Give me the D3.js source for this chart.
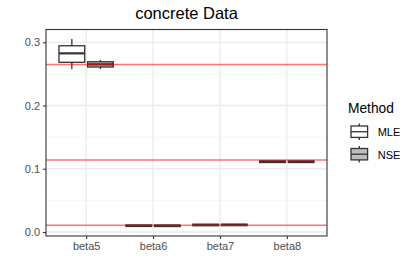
<!DOCTYPE html>
<html>
<head>
<meta charset="utf-8">
<script src="https://cdn.jsdelivr.net/npm/d3@7"></script>
<style>
  body { margin: 0; background: #fff; }
  svg { font-family: "Liberation Sans", Arial, sans-serif; }
</style>
</head>
<body>
<svg id="chart" width="415" height="277"></svg>
<script>
// ---- Data ----
const categories = ["beta5", "beta6", "beta7", "beta8"];
const methods = ["MLE", "NSE"];
const fills = ["#ffffff", "#bebebe"];
const yTicks = [0.0, 0.1, 0.2, 0.3];
const yMinor = [0.05, 0.15, 0.25];
// [lower, q1, median, q3, upper] per category
const mleStats = [
  [0.2572, 0.2683, 0.2825, 0.2945, 0.3051],
  [0.0088, 0.0088, 0.0099, 0.0111, 0.0111],
  [0.0100, 0.0100, 0.0111, 0.0123, 0.0123],
  [0.1099, 0.1099, 0.1111, 0.1124, 0.1124]
];
const nseStats = [
  [0.2577, 0.2609, 0.2651, 0.2692, 0.2719],
  [0.0087, 0.0087, 0.0099, 0.0110, 0.0110],
  [0.0101, 0.0101, 0.0112, 0.0124, 0.0124],
  [0.1099, 0.1099, 0.1111, 0.1123, 0.1123]
];
const trueValues = [0.265, 0.114, 0.0106];

const svg = d3.select("#chart");
const panel = { left: 46, right: 327, top: 29.5, bottom: 236 };

// ---- Scales ----
const x = d3.scalePoint().domain(categories).range([panel.left, panel.right]).padding(0.6);
const step = x.step();
const dodge = d3.scaleBand().domain(methods)
  .range([-step * 0.4275, step * 0.4275])
  .paddingInner(0.1).paddingOuter(0.05);
const y = d3.scaleLinear().domain([-0.0063, 0.3202]).range([panel.bottom, panel.top]);

// ---- Panel grid ----
const grid = svg.append("g");
grid.selectAll(".minor").data(yMinor).join("line")
  .attr("x1", panel.left).attr("x2", panel.right)
  .attr("y1", d => y(d)).attr("y2", d => y(d))
  .attr("stroke", "#f2f2f2").attr("stroke-width", 0.7);
grid.selectAll(".major").data(yTicks).join("line")
  .attr("x1", panel.left).attr("x2", panel.right)
  .attr("y1", d => y(d)).attr("y2", d => y(d))
  .attr("stroke", "#ebebeb").attr("stroke-width", 1.3);
grid.selectAll(".vmajor").data(categories).join("line")
  .attr("x1", d => x(d)).attr("x2", d => x(d))
  .attr("y1", panel.top).attr("y2", panel.bottom)
  .attr("stroke", "#ebebeb").attr("stroke-width", 1.3);

// ---- Boxes ----
const boxes = [];
categories.forEach((c, i) => {
  boxes.push({ cat: c, m: "MLE", s: mleStats[i] });
  boxes.push({ cat: c, m: "NSE", s: nseStats[i] });
});
const bw = dodge.bandwidth();
const g = svg.append("g").selectAll("g").data(boxes).join("g")
  .attr("transform", d => `translate(${x(d.cat) + dodge(d.m)},0)`);
g.append("line")
  .attr("x1", bw / 2).attr("x2", bw / 2)
  .attr("y1", d => y(d.s[0])).attr("y2", d => y(d.s[4]))
  .attr("stroke", "#333").attr("stroke-width", 1.3);
g.append("rect")
  .attr("x", 0).attr("width", bw)
  .attr("y", d => y(d.s[3])).attr("height", d => y(d.s[1]) - y(d.s[3]))
  .attr("fill", d => fills[methods.indexOf(d.m)])
  .attr("stroke", "#333").attr("stroke-width", 1.3);
g.append("line")
  .attr("x1", 0).attr("x2", bw)
  .attr("y1", d => y(d.s[2])).attr("y2", d => y(d.s[2]))
  .attr("stroke", "#333").attr("stroke-width", 2.2);

// ---- True value lines ----
svg.append("g").selectAll("line").data(trueValues).join("line")
  .attr("x1", panel.left).attr("x2", panel.right)
  .attr("y1", d => y(d)).attr("y2", d => y(d))
  .attr("stroke", "red").attr("stroke-opacity", 0.55).attr("stroke-width", 1.5);

// ---- Border ----
svg.append("rect")
  .attr("x", panel.left).attr("y", panel.top)
  .attr("width", panel.right - panel.left).attr("height", panel.bottom - panel.top)
  .attr("fill", "none").attr("stroke", "#333").attr("stroke-width", 1.1);

// ---- Axes ----
const yAxis = svg.append("g")
  .attr("transform", `translate(${panel.left},0)`)
  .call(d3.axisLeft(y).tickValues(yTicks).tickFormat(d3.format(".1f")).tickSize(3).tickPadding(3));
const xAxis = svg.append("g")
  .attr("transform", `translate(0,${panel.bottom})`)
  .call(d3.axisBottom(x).tickSize(3).tickPadding(3));
[yAxis, xAxis].forEach(a => {
  a.select(".domain").remove();
  a.selectAll(".tick line").attr("stroke", "#333").attr("stroke-width", 1.1);
  a.selectAll(".tick text").attr("fill", "#4d4d4d").style("font-size", "11px")
    .style("font-family", "'Liberation Sans', Arial, sans-serif");
});

// ---- Title ----
svg.append("text")
  .attr("x", (panel.left + panel.right) / 2).attr("y", 18.5)
  .attr("text-anchor", "middle")
  .style("font-size", "16.5px").attr("fill", "#000")
  .text("concrete Data");

// ---- Legend ----
const legend = svg.append("g");
legend.append("text")
  .attr("x", 348).attr("y", 113)
  .style("font-size", "13.75px")
  .text("Method");
const keys = legend.selectAll(".key").data(methods).join("g")
  .attr("transform", (d, i) => `translate(359.3,${131.7 + i * 22.5})`);
keys.append("line")
  .attr("y1", -8.3).attr("y2", 8.3)
  .attr("stroke", "#333").attr("stroke-width", 1.3);
keys.append("rect")
  .attr("x", -8.3).attr("y", -5.7).attr("width", 16.6).attr("height", 11.4)
  .attr("fill", (d, i) => fills[i])
  .attr("stroke", "#333").attr("stroke-width", 1.3);
keys.append("line")
  .attr("x1", -8.3).attr("x2", 8.3)
  .attr("stroke", "#333").attr("stroke-width", 1.3);
keys.append("text")
  .attr("x", 18.4).attr("y", 4.3)
  .style("font-size", "11px").attr("fill", "#000")
  .text(d => d);
</script>
</body>
</html>
